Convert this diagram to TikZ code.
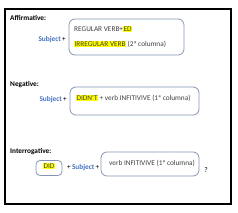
\documentclass[tikz,border=0pt]{standalone}
\usepackage{fontspec}
\setmainfont{Carlito}
\usetikzlibrary{positioning}
\definecolor{boxline}{HTML}{8496B0}
\definecolor{subjblue}{HTML}{4472C4}
\definecolor{hlyellow}{HTML}{FFFF00}
\definecolor{textgrey}{HTML}{3F3F3F}
\newcommand{\hlt}[1]{{\setlength{\fboxsep}{0.4pt}\colorbox{hlyellow}{#1}}}
\newcommand{\subj}{\textcolor{subjblue}{\textbf{Subject}}}

\begin{document}
\begin{tikzpicture}[x=1pt,y=-1pt,
  every node/.style={inner sep=0pt, font=\fontsize{7.3}{8.5}\selectfont},
  heading/.style={anchor=west, font=\fontsize{7.3}{8.5}\selectfont\bfseries},
  formbox/.style={draw=boxline, line width=0.8pt, rounded corners=6pt},
  boxtext/.style={anchor=west, text=textgrey}]
\useasboundingbox (0,0) rectangle (238,212);

% Outer frame
\draw[line width=2.2pt] (5,9) rectangle (231,204);

% Affirmative
\node[heading] (affhead) at (10,18) {Affirmative:};
\node[formbox, minimum width=115pt, minimum height=36pt] (affbox) at (126.5,37) {};
\node[anchor=east] (affsubj) at (66,40) {\subj\,+};
\node[boxtext] (affreg) at (74,29) {REGULAR VERB+\hlt{ED}};
\node[boxtext] (affirr) at (74,44) {\hlt{IRREGULAR VERB} (2ª columna)};

% Negative
\node[heading] (neghead) at (10,85) {Negative:};
\node[formbox, minimum width=129pt, minimum height=28pt] (negbox) at (134.5,101) {};
\node[anchor=east] (negsubj) at (67,100) {\subj\,+};
\node[boxtext] (negverb) at (76,98) {\hlt{DIDN'T} + verb INFITIVIVE (1ª columna)};

% Interrogative
\node[heading] (inthead) at (10,152) {Interrogative:};
\node[formbox, rounded corners=4pt, minimum width=26pt, minimum height=15pt] (didbox) at (49,168) {};
\node[text=textgrey] (didtext) at (49,166) {\hlt{DID}};
\node[anchor=east] (intsubj) at (99.5,168) {+\,\subj\,+};
\node[formbox, minimum width=98pt, minimum height=24pt] (verbbox) at (150,164) {};
\node[boxtext] (verbtext) at (109,163) {verb INFITIVIVE (1ª columna)};
\node (qmark) at (206,170) {?};

\end{tikzpicture}
\end{document}
